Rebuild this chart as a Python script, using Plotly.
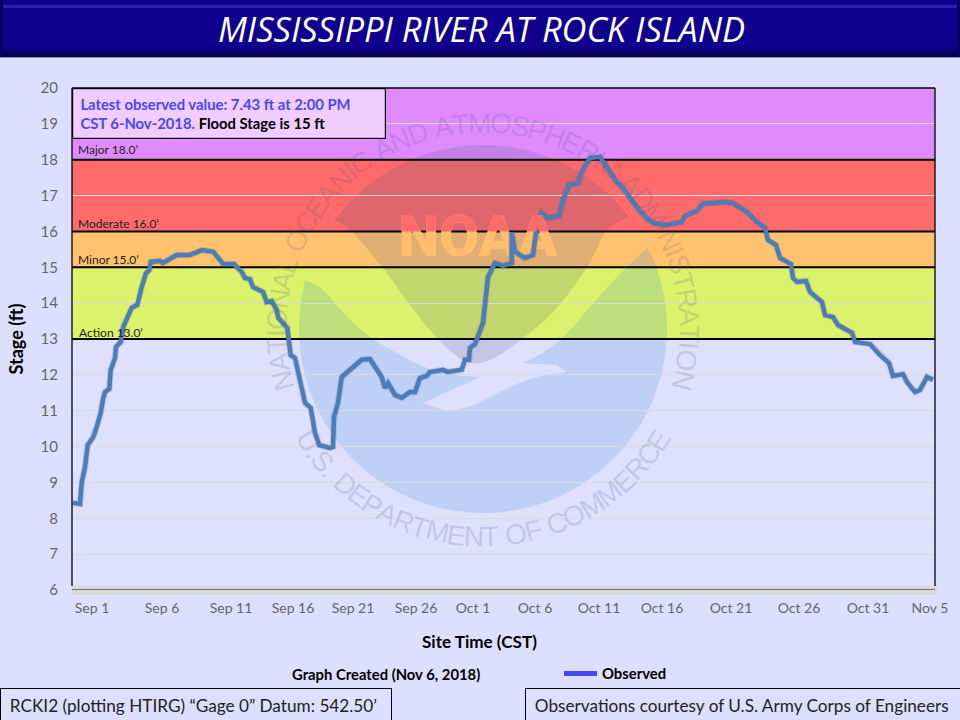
import math
import numpy as np
import plotly.graph_objects as go

W, H = 960, 720
L, R, T, B = 72, 935, 88, 590

# ---------- data ----------
obs_pos = [0.7,8,9.7,13,15.7,21.3,24.7,28.7,31.3,33,37.3,38.7,43,44,48.7,51.3,59.7,65.3,69.7,74,77.3,78.7,88,90.7,104.7,118,129.7,141.3,151.3,162,169.7,173,178,181,191,194.7,199.7,204.7,206.3,215.3,218.7,223,233,238.7,243,247.3,258,261,262,266,269.7,279.7,289.7,298,309.7,313,316,323,329.7,338,343,348,354.7,358,371,376,389.7,393,397,398,403,411,416,423,431,439.7,439.7,443,453,461,464.7,469.7,474.7,487,491,497,506,509.7,518,528,544.7,551,564.7,576,584.7,594.7,609.7,613,624.7,631,651,661,675,685,693,696,704,708,719,721,725,734,738,750,753,761,766,780,783,798,808,817,821,831,835,843,848,855,861]
obs_stage = [8.43,8.40,8.99,9.43,10.04,10.27,10.55,10.94,11.36,11.52,11.61,12.14,12.47,12.78,12.92,13.34,13.87,13.95,14.45,14.84,14.92,15.15,15.18,15.12,15.34,15.34,15.48,15.43,15.09,15.09,14.87,14.70,14.67,14.45,14.31,14.03,14.06,13.81,13.59,13.31,12.55,12.47,11.22,11.08,10.38,10.04,9.96,9.99,10.83,11.22,11.94,12.19,12.42,12.44,11.94,11.63,11.77,11.44,11.36,11.52,11.52,11.91,11.97,12.08,12.14,12.08,12.14,12.42,12.42,12.75,12.86,13.45,14.73,15.12,15.04,15.12,15.98,15.43,15.26,15.34,16.10,16.51,16.37,16.43,16.88,17.30,17.35,17.66,18.05,18.08,17.38,17.21,16.68,16.32,16.21,16.18,16.26,16.43,16.57,16.77,16.82,16.79,16.54,16.26,16.10,15.76,15.62,15.26,15.09,14.70,14.59,14.62,14.31,14.03,13.67,13.61,13.39,13.17,12.92,12.86,12.55,12.33,11.97,12.02,11.80,11.52,11.58,11.94,11.86]
tick_labels = ["Sep 1","Sep 6","Sep 11","Sep 16","Sep 21","Sep 26","Oct 1","Oct 6","Oct 11","Oct 16","Oct 21","Oct 26","Oct 31","Nov 5"]
tick_pos = [20,90,159,221,281,344,401,463,527,590,659,727,796,858]
stage_ticks = list(range(6, 21))
bands = [(6,13,"#DFE0FE"),(18,20,"#DF8BFF"),(16,18,"#FF6B6B"),(15,16,"#FFC36F"),(13,15,"#DCF26C")]
thresholds = [(18,"Major 18.0’"),(16,"Moderate 16.0’"),(15,"Minor 15.0’"),(13,"Action 13.0’")]

n = min(len(obs_pos), len(obs_stage))
x_vals, y_vals = obs_pos[:n], obs_stage[:n]

px = lambda x: (x - L) / (R - L)
py = lambda y: (B - y) / (B - T)

def path(points):
    return "M" + "L".join(f"{px(x):.5f},{py(y):.5f}" for x, y in points) + "Z"

def rect(x0, y0, x1, y1, color, layer="below", line=None):
    return dict(type="rect", xref="paper", yref="paper", x0=px(x0), x1=px(x1), y0=py(y0), y1=py(y1),
                fillcolor=color, layer=layer, line=dict(width=0) if line is None else line)

def spline(pts, k=8):
    p = [pts[0]] + list(pts) + [pts[-1]]
    out = []
    for i in range(1, len(p) - 2):
        for t in np.linspace(0, 1, k, endpoint=False):
            a, b, c, d = map(np.array, (p[i-1], p[i], p[i+1], p[i+2]))
            out.append(tuple(0.5*((2*b)+(c-a)*t+(2*a-5*b+4*c-d)*t*t+(3*b-a-3*c+d)*t**3)))
    out.append(pts[-1])
    return out

CX, CY, RAD = 483, 329, 184

def arc(a0, a1, n=60):
    return [(CX + RAD*math.cos(a), CY + RAD*math.sin(a)) for a in np.linspace(a0, a1, n)]

ang = lambda x, y: math.atan2(y - CY, x - CX)

shapes = []
for lo, hi, col in bands:
    shapes.append(dict(type="rect", xref="paper", yref="y", x0=0, x1=1, y0=lo, y1=hi, fillcolor=col, layer="below", line=dict(width=0)))

# watermark
dark_edge = spline([(628,218),(607,230),(587,267),(555,310),(523,338),(490,360),(465,361),(437,338),(410,305),(382,267),(350,230),(333,220)])
a_l, a_r = ang(333,220), ang(628,218)
shapes.append(dict(type="path", xref="paper", yref="paper", layer="below", line=dict(width=0),
                   fillcolor="rgba(83,83,128,0.18)", path=path(arc(a_l, a_r) + dark_edge[1:-1])))
blue_edge = spline([(305,280),(323,290),(347,317),(370,337),(397,353),(427,368),(457,375),(480,377)]) + \
    spline([(423,403),(447,410),(473,405),(510,387),(537,377),(567,372)]) + \
    spline([(557,365),(523,363)]) + spline([(523,363),(547,350),(570,330),(590,307),(617,277),(647,248)])
a0, a1 = ang(647,248), ang(305,280)
if a1 < a0:
    a1 += 2*math.pi
shapes.append(dict(type="path", xref="paper", yref="paper", layer="below", line=dict(width=0),
                   fillcolor="rgba(20,127,197,0.16)", path=path(blue_edge + arc(a0, a1)[1:-1])))

# lower grey strip + frame + box + banner
shapes.append(rect(72, 586, 937, 595, "#D9D9D9"))
for s, _ in thresholds:
    shapes.append(dict(type="line", xref="x", yref="y", x0=0, x1=863, y0=s, y1=s, layer="between", line=dict(color="black", width=2)))
shapes.append(dict(type="line", xref="x", yref="y", x0=0, x1=866, y0=6, y1=6, layer="between", line=dict(color="black", width=1.2)))
for xp in (72, 935):
    shapes.append(dict(type="line", xref="paper", yref="paper", x0=px(xp), x1=px(xp), y0=py(586), y1=py(88), layer="above", line=dict(color="black", width=1.3)))
shapes.append(dict(type="line", xref="paper", yref="paper", x0=0, x1=1, y0=1, y1=1, layer="above", line=dict(color="black", width=1.3)))

for y0, y1, col in [(0,57,"#10008F"),(5,8,"#2C20AE"),(46,49,"#0F0088"),(49,51,"#0D0078"),(51,53,"#0B0068"),(53,55,"#090058"),(55,57,"#070045"),(57,58,"#8C8CC8")]:
    shapes.append(rect(0, y0, 960, y1, col))
shapes.append(rect(0, 0, 3, 56, "#0A0060"))
shapes.append(rect(957, 0, 960, 56, "#0A0060"))

FONT = "Lato, 'Open Sans', sans-serif"
def note(x, y, text, size=12, color="#222222", bold=False, xanchor="left", yanchor="middle", family=FONT, **kw):
    t = f"<b>{text}</b>" if bold else text
    return dict(xref="paper", yref="paper", x=px(x), y=py(y), text=t, showarrow=False, xanchor=xanchor, yanchor=yanchor,
                font=dict(size=size, color=color, family=family), **kw)

ann = []
NARROW = {"I":0.30," ":0.30,".":0.30,"T":0.62,"E":0.67,"F":0.62,"L":0.58,"S":0.67,"P":0.67,"M":0.85,"C":0.74,"O":0.80,"N":0.74,"A":0.68,"D":0.74,"R":0.74,"H":0.74,"U":0.74}
SEAL = dict(size=28, color="rgba(85,85,130,0.20)", family="'Liberation Sans', Arial, sans-serif")
def ring(text, a_start, a_end, radius, bottom=False):
    w = [NARROW.get(c, 0.7) for c in text]
    total = sum(w)
    cum = 0
    for c, wi in zip(text, w):
        f = (cum + wi/2) / total
        cum += wi
        if c == " ":
            continue
        a = a_start + (a_end - a_start)*f
        r = math.radians(a)
        if bottom:
            xx, yy = CX - radius*math.sin(r), CY + radius*math.cos(r)
        else:
            xx, yy = CX + radius*math.sin(r), CY - radius*math.cos(r)
        ann.append(dict(xref="paper", yref="paper", x=px(xx), y=py(yy), text=c, showarrow=False, textangle=a,
                        xanchor="center", yanchor="middle", font=SEAL))
ring("NATIONAL OCEANIC AND ATMOSPHERIC ADMINISTRATION", -107, 107, 206)
ring("U.S. DEPARTMENT OF COMMERCE", 60, -60, 208, bottom=True)

ann.append(note(481.5, 28.5, "<i>MISSISSIPPI RIVER AT ROCK ISLAND</i>", size=34.5, color="white", xanchor="center", family="'Open Sans', sans-serif"))

ann.append(dict(xref="paper", yref="paper", x=px(72), y=py(88), xanchor="left", yanchor="top", width=312, height=49, align="left", valign="middle",
                showarrow=False, bgcolor="#F1CCFF", bordercolor="black", borderwidth=1.2, borderpad=0,
                text="<b><span style='color:#4747FF'>  Latest observed value: 7.43 ft at 2:00 PM<br>  CST 6-Nov-2018.</span> Flood Stage is 15 ft</b>",
                font=dict(size=14.8, color="black", family=FONT)))

for (s, label), yy, xx in zip(thresholds, (149,223.5,259,332), (76,76,76,77)):
    ann.append(note(xx, yy, label, size=12, color="#222222"))

ann.append(note(385.5, 674, "Graph Created (Nov 6, 2018)", size=14.8, color="black", bold=True, xanchor="center"))
ann.append(note(479.5, 641, "Site Time (CST)", size=17.1, color="black", bold=True, xanchor="center"))

ann.append(dict(xref="paper", yref="paper", x=px(0), y=py(688), xanchor="left", yanchor="top", width=390, height=32, align="left", valign="middle",
                showarrow=False, bgcolor="#DDDFFF", bordercolor="black", borderwidth=1, borderpad=0,
                text="  RCKI2 (plotting HTIRG) “Gage 0” Datum: 542.50’", font=dict(size=17.2, color="#222222", family=FONT)))
ann.append(dict(xref="paper", yref="paper", x=px(525), y=py(688), xanchor="left", yanchor="top", width=435, height=32, align="left", valign="middle",
                showarrow=False, bgcolor="#DDDFFF", bordercolor="black", borderwidth=1, borderpad=0,
                text="  Observations courtesy of U.S. Army Corps of Engineers", font=dict(size=17.2, color="#222222", family=FONT)))

LOGO_FONT = dict(family="Roboto, sans-serif", size=58, weight=900)
fig = go.Figure()
# logo lettering sits under the curve; the part above 16 ft takes the red of that band
fig.add_trace(go.Scatter(x=[406], y=[15.73], mode="text", text=["NOAA"], showlegend=False, hoverinfo="skip",
                         textposition="middle center", textfont=dict(color="#FFBE6E", **LOGO_FONT)))
fig.add_trace(go.Scatter(x=[406], y=[15.73], mode="text", text=["NOAA"], showlegend=False, hoverinfo="skip",
                         xaxis="x2", yaxis="y2", cliponaxis=True,
                         textposition="middle center", textfont=dict(color="#FF6B6B", **LOGO_FONT)))
fig.add_trace(go.Scatter(x=x_vals, y=y_vals, mode="lines", showlegend=False, hoverinfo="skip",
                         line=dict(color="rgba(50,50,80,0.16)", width=6.5)))
fig.add_trace(go.Scatter(x=x_vals, y=y_vals, mode="lines", showlegend=False, name="Observed stage",
                         line=dict(color="#4A7EBB", width=4.5)))
fig.add_trace(go.Scatter(x=[None], y=[None], mode="lines", name="Observed",
                         line=dict(color="#4747FF", width=5)))

fig.update_layout(
    width=W, height=H, autosize=False,
    margin=dict(l=L, r=W-R, t=T, b=H-B, pad=0),
    paper_bgcolor="#DDDFFF", plot_bgcolor="rgba(0,0,0,0)",
    font=dict(family=FONT, color="#595959"),
    shapes=shapes, annotations=ann,
    legend=dict(x=px(559), y=py(674), xanchor="left", yanchor="middle", bgcolor="rgba(0,0,0,0)",
                font=dict(size=14.8, color="black", family=FONT, weight="bold"), itemwidth=33),
    xaxis=dict(range=[0, 863], tickmode="array", tickvals=tick_pos, ticktext=tick_labels, showgrid=False, zeroline=False,
               showline=False, ticks="", tickfont=dict(size=14, color="#666666"), ticklabelstandoff=8, automargin=False),
    yaxis=dict(range=[6, 20], domain=[0, 1], tickmode="array", tickvals=stage_ticks, showgrid=True, gridcolor="#DADADA", gridwidth=1, zeroline=False,
               showline=False, ticks="", tickfont=dict(size=15, color="#666666"), ticklabelstandoff=13,
               title=dict(text="<b>Stage (ft)</b>", font=dict(size=18, color="black"), standoff=12), automargin=False),
    xaxis2=dict(range=[0, 863], domain=[0, 1], visible=False, anchor="y2"),
    yaxis2=dict(range=[16, 20], domain=[(16 - 6) / 14, 1], visible=False, anchor="x2"),
)

fig.write_html("out.html", post_script="document.body.style.margin='0';", config={"displayModeBar": False})
